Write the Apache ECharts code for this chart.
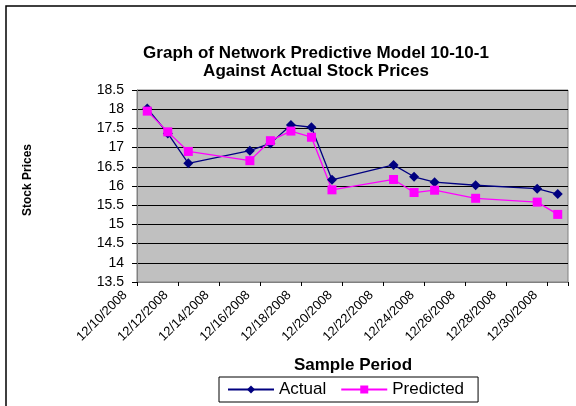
<!DOCTYPE html>
<html>
<head>
<meta charset="utf-8">
<script src="https://cdn.jsdelivr.net/npm/echarts@6/dist/echarts.min.js"></script>
<style>
html,body{margin:0;padding:0;background:#fff;}
#chart{width:576px;height:406px;}
</style>
</head>
<body>
<div id="chart"></div>
<script>
// ---- data ----
var dates = ['12/10/2008','12/11/2008','12/12/2008','12/15/2008','12/16/2008','12/17/2008','12/18/2008',
             '12/19/2008','12/22/2008','12/23/2008','12/24/2008','12/26/2008','12/29/2008','12/30/2008'];
var actual    = [18.02, 17.37, 16.59, 16.92, 17.11, 17.59, 17.53, 16.16, 16.55, 16.24, 16.10, 16.02, 15.93, 15.79];
var predicted = [17.95, 17.41, 16.90, 16.66, 17.18, 17.43, 17.27, 15.90, 16.17, 15.83, 15.89, 15.68, 15.58, 15.26];
var xTickLabels = ['12/10/2008','12/12/2008','12/14/2008','12/16/2008','12/18/2008','12/20/2008',
                   '12/22/2008','12/24/2008','12/26/2008','12/28/2008','12/30/2008'];
var startDate = '12/10/2008';

function dayNum(s){ var p = s.split('/'); return Date.UTC(+p[2], +p[0]-1, +p[1]) / 86400000; }
var d0 = dayNum(startDate);
// each day occupies one unit; point sits in the middle of its day
function pairs(vals){ return dates.map(function(d,i){ return [dayNum(d) - d0 + 0.5, vals[i]]; }); }

var chart = echarts.init(document.getElementById('chart'), null, {renderer:'canvas'});
var FONT = 'Liberation Sans, Arial, sans-serif';
chart.setOption({
  backgroundColor: '#ffffff',
  animation: false,
  textStyle: {fontFamily: FONT},
  graphic: [
    {type:'rect', shape:{x:6, y:6, width:700, height:500}, style:{fill:'none', stroke:'#000', lineWidth:1.5}, silent:true},
    {type:'text', x:316, y:44, style:{text:'Graph of Network Predictive Model 10-10-1\nAgainst Actual Stock Prices',
      fontFamily:FONT, fontWeight:'bold', fontSize:17, lineHeight:18, textAlign:'center', fill:'#000'}},
    {type:'text', x:28, y:180, rotation:Math.PI/2, style:{text:'Stock Prices', fontFamily:FONT, fontWeight:'bold', fontSize:12,
      textAlign:'center', textVerticalAlign:'middle', fill:'#000'}},
    {type:'text', x:353, y:365, style:{text:'Sample Period', fontFamily:FONT, fontWeight:'bold', fontSize:17,
      textAlign:'center', textVerticalAlign:'middle', fill:'#000'}}
  ],
  grid: [
    {left:137, right:8, top:90, bottom:124, show:true, backgroundColor:'#C0C0C0', borderColor:'#808080', borderWidth:1},
    {left:125, right:20, top:90, bottom:124, show:false}
  ],
  legend: {
    left: 219, top: 377, padding:[4,14,4,8], itemGap: 14, itemWidth: 46, itemHeight: 10,
    borderColor:'#000', borderWidth:1, backgroundColor:'#fff',
    textStyle:{fontFamily:FONT, fontSize:17, color:'#000'},
    data:['Actual','Predicted']
  },
  xAxis: [{
    type:'value', min:0, max:21, interval:2, gridIndex:0,
    axisLine:{show:true, lineStyle:{color:'#808080', width:1}},
    axisTick:{show:true, length:4, lineStyle:{color:'#000'}},
    splitLine:{show:false},
    axisLabel:{show:false}
  },{
    type:'value', min:0, max:21, interval:2, gridIndex:1,
    axisLine:{show:false}, axisTick:{show:false}, splitLine:{show:false},
    axisLabel:{rotate:45, fontSize:13, color:'#000', margin:11, fontFamily:FONT, showMaxLabel:false,
      formatter:function(v){ var k = Math.round(v/2); return (v%2===0 && xTickLabels[k]) ? xTickLabels[k] : ''; }}
  }],
  yAxis: [{
    type:'value', min:13.5, max:18.5, interval:0.5, gridIndex:0,
    axisLine:{show:true, lineStyle:{color:'#808080', width:1}},
    axisTick:{show:true, length:5, lineStyle:{color:'#000'}},
    splitLine:{show:true, lineStyle:{color:'#000', width:1}},
    axisLabel:{fontSize:14, color:'#000', margin:13, fontFamily:FONT}
  },{
    type:'value', min:13.5, max:18.5, gridIndex:1, show:false
  }],
  series: [
    {name:'Actual', type:'line', data:pairs(actual), symbol:'diamond', symbolSize:10,
     lineStyle:{color:'#000080', width:1.3}, itemStyle:{color:'#000080'}},
    {name:'Predicted', type:'line', data:pairs(predicted), symbol:'rect', symbolSize:9,
     lineStyle:{color:'#FF00FF', width:1.3}, itemStyle:{color:'#FF00FF'}}
  ]
});
</script>
</body>
</html>
